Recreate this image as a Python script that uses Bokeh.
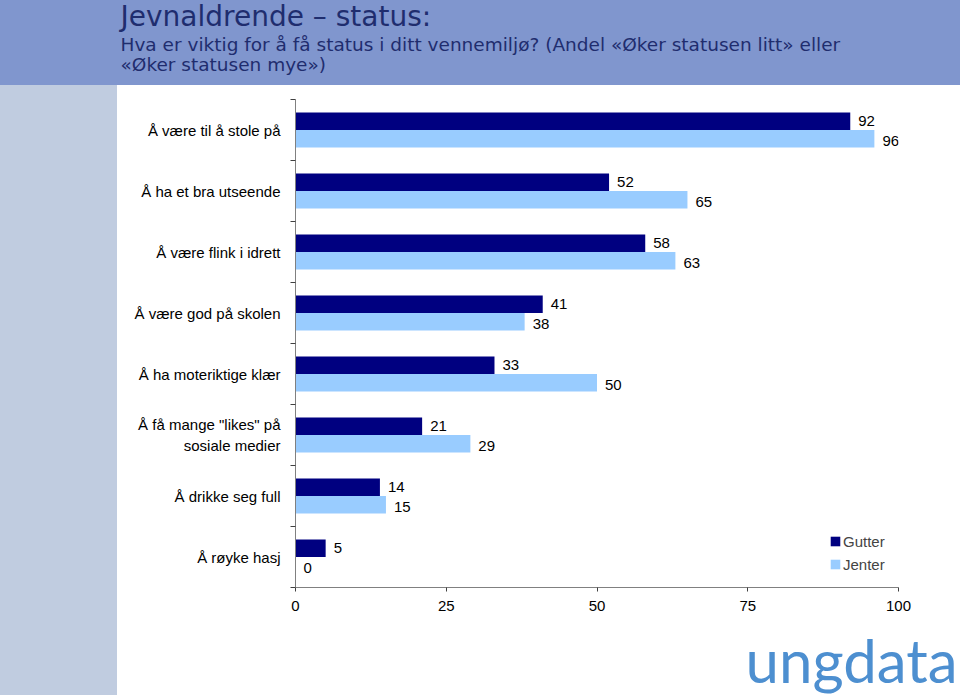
from bokeh.plotting import figure
from bokeh.models import Range1d, FixedTicker, ColumnDataSource, Legend, LegendItem
from bokeh.layouts import column, row
from bokeh.embed import file_html
from bokeh.resources import INLINE
from bokeh.core.properties import value

# ---- data ----
categories = [
    "Å være til å stole på",
    "Å ha et bra utseende",
    "Å være flink i idrett",
    "Å være god på skolen",
    "Å ha moteriktige klær",
    "Å få mange \"likes\" på\nsosiale medier",
    "Å drikke seg full",
    "Å røyke hasj",
]
gutter = [92, 52, 58, 41, 33, 21, 14, 5]
jenter = [96, 65, 63, 38, 50, 29, 15, 0]
x_ticks = [0, 25, 50, 75, 100]
series_names = ["Gutter", "Jenter"]

title = "Jevnaldrende \u2013 status:"
subtitle1 = "Hva er viktig for å få status i ditt vennemiljø? (Andel «Øker statusen litt» eller"
subtitle2 = "«Øker statusen mye»)"
logo_text = "ungdata"

FONT = "Liberation Sans"
HFONT = "DejaVu Sans"
NAVY = "#000080"
LIGHT = "#99CCFF"
HEADER_BG = "#8096CE"
SIDE_BG = "#C0CCE0"
TITLE_COLOR = "#1F2D6E"
LOGO_COLOR = "#4D8FD0"

n = len(categories)
centers = [i + 0.5 for i in range(n)]
bh = 0.287

src = ColumnDataSource(dict(
    yg=[c - bh / 2 for c in centers],
    yj=[c + bh / 2 for c in centers],
    g=gutter, j=jenter,
    gl=[str(v) for v in gutter],
    jl=[str(v) for v in jenter],
))


def deco(w, hgt, bg):
    f = figure(width=w, height=hgt, x_range=Range1d(0, w), y_range=Range1d(hgt, 0),
               title=None, toolbar_location=None, output_backend="svg", min_border=0,
               border_fill_color=bg, background_fill_color=bg,
               styles={"background-color": bg})
    f.axis.visible = False
    f.grid.visible = False
    f.outline_line_color = None
    return f


# ---- header ----
h = deco(960, 85, HEADER_BG)
h.text(x=[120], y=[15.5], text=[title], text_font=value(HFONT), text_font_size="28px",
       text_color=TITLE_COLOR, text_baseline="middle")
h.text(x=[120, 120], y=[43.5, 63.5], text=[subtitle1, subtitle2], text_font=value(HFONT),
       text_font_size="18.5px", text_color=TITLE_COLOR, text_baseline="middle")

# ---- sidebar (two parts) ----
s = deco(117, 540, SIDE_BG)
fs = deco(117, 70, SIDE_BG)

# ---- footer logo ----
fl = deco(843, 70, "white")
fl.text(x=[628], y=[34], text=[logo_text], text_font=value("Lato"), text_font_size="60px",
        text_color=LOGO_COLOR, text_baseline="middle")

# ---- main chart ----
p = figure(width=843, height=540, x_range=Range1d(0, 100), y_range=Range1d(n, 0),
           title=None, toolbar_location=None, output_backend="svg",
           min_border_left=178, min_border_right=62, min_border_top=14, min_border_bottom=38,
           background_fill_color="white", border_fill_color="white")
p.grid.visible = False
p.outline_line_color = None

rg = p.hbar(y="yg", left=0, right="g", height=bh, source=src, fill_color=NAVY, line_color=None)
rj = p.hbar(y="yj", left=0, right="j", height=bh, source=src, fill_color=LIGHT, line_color=None)

p.text(x="g", y="yg", text="gl", source=src, x_offset=8, text_baseline="middle",
       text_font=value(FONT), text_font_size="15px", text_color="black")
p.text(x="j", y="yj", text="jl", source=src, x_offset=8, y_offset=2, text_baseline="middle",
       text_font=value(FONT), text_font_size="15px", text_color="black")

xa = p.xaxis[0]
xa.ticker = FixedTicker(ticks=x_ticks)
xa.major_label_text_font = FONT
xa.major_label_text_font_size = "15px"
xa.major_label_text_color = "black"
xa.major_tick_out = 4
xa.major_tick_in = 0
xa.minor_tick_out = 0
xa.minor_tick_in = 0
xa.major_label_standoff = 9
xa.axis_line_color = "#808080"
xa.major_tick_line_color = "#404040"

ya = p.yaxis[0]
ya.ticker = FixedTicker(ticks=centers, minor_ticks=list(range(n + 1)))
ya.major_label_overrides = {c: lab for c, lab in zip(centers, categories)}
ya.major_label_text_font = FONT
ya.major_label_text_font_size = "15px"
ya.major_label_text_color = "black"
ya.major_tick_line_color = None
ya.major_tick_out = 0
ya.major_tick_in = 0
ya.minor_tick_out = 5
ya.minor_tick_in = 0
ya.minor_tick_line_color = "#404040"
ya.major_label_standoff = 10
ya.axis_line_color = "#808080"

legend = Legend(items=[LegendItem(label=series_names[0], renderers=[rg]),
                       LegendItem(label=series_names[1], renderers=[rj])],
                location=(534, 13), padding=0, margin=0, border_line_color=None,
                background_fill_alpha=0, glyph_width=12, glyph_height=12,
                label_height=20, spacing=3, label_standoff=2,
                label_text_font=FONT, label_text_font_size="15px")
p.add_layout(legend)

layout = column(h, row(s, p), row(fs, fl))
open("out.html", "w").write(file_html(layout, INLINE))
